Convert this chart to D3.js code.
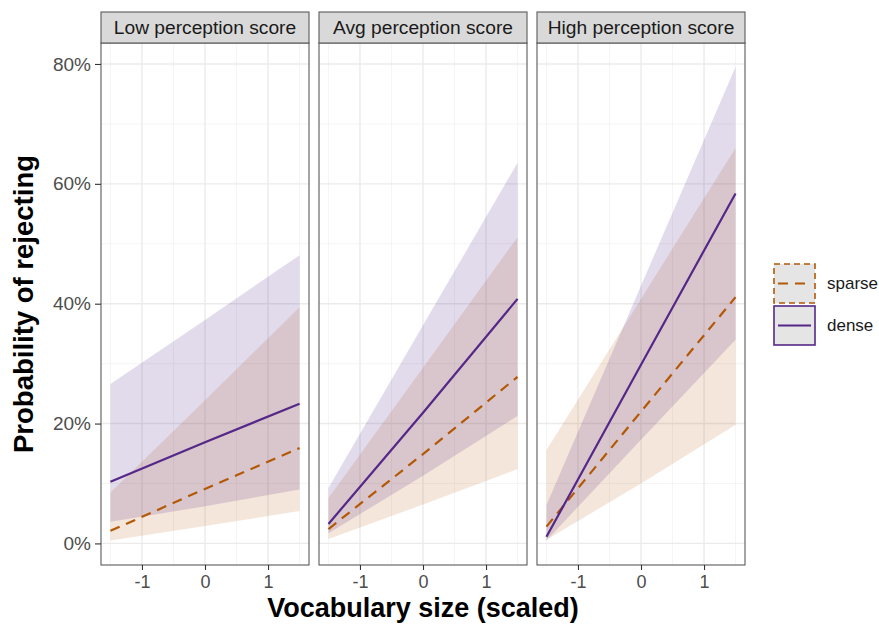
<!DOCTYPE html>
<html><head><meta charset="utf-8">
<script src="https://cdn.jsdelivr.net/npm/d3@7"></script>
<style>body{margin:0;background:#fff}svg{display:block;font-family:"Liberation Sans",Arial,sans-serif}</style>
</head><body><svg id="c" width="879" height="625"></svg>
<script>
// ---- data ----
const panels = ["Low perception score", "Avg perception score", "High perception score"];
const groups = ["sparse", "dense"];
const vocab = [-1.5, 0, 1.5];
const sparseFit = [[2.1, 9.1, 15.9], [2.4, 14.9, 27.8], [2.8, 22.0, 41.1]];
const sparseLo  = [[0.5, 2.9, 5.4], [0.75, 6.5, 12.4], [0.6, 10.0, 19.8]];
const sparseHi  = [[8.5, 23.9, 39.4], [7.6, 29.3, 51.1], [15.6, 40.8, 66.0]];
const denseFit  = [[10.3, 16.9, 23.3], [3.25, 21.8, 40.8], [1.1, 29.8, 58.4]];
const denseLo   = [[3.6, 6.2, 9.0], [1.7, 11.3, 21.25], [0.5, 17.3, 34.0]];
const denseHi   = [[26.6, 37.3, 48.1], [9.25, 36.4, 63.5], [6.4, 43.0, 79.5]];
const yTicks = [0, 20, 40, 60, 80];
const yTickLabels = ["0%", "20%", "40%", "60%", "80%"];
const xTicks = [-1, 0, 1];
const xTickLabels = ["-1", "0", "1"];

(function () {
const colors = {sparse: "#b35806", dense: "#542788"};
const series = {
  sparse: {fit: sparseFit, lo: sparseLo, hi: sparseHi},
  dense: {fit: denseFit, lo: denseLo, hi: denseHi}
};

const svg = d3.select("#c");
const panelLeft = [101, 319, 537], panelW = 208;
const pTop = 43, pBottom = 565, stripTop = 12;
const y = d3.scaleLinear().domain([-3.6, 83.5]).range([pBottom, pTop]);
const font = '"Liberation Sans", Arial, sans-serif';

panels.forEach((name, p) => {
  const x0 = panelLeft[p];
  const x = d3.scaleLinear().domain([-1.65, 1.65]).range([x0, x0 + panelW]);
  const g = svg.append("g");
  // grid minor
  [-1.5, -0.5, 0.5, 1.5].forEach(v => g.append("line").attr("x1", x(v)).attr("x2", x(v)).attr("y1", pTop).attr("y2", pBottom).attr("stroke", "#f2f2f2").attr("stroke-width", 0.8));
  [10, 30, 50, 70].forEach(v => g.append("line").attr("x1", x0).attr("x2", x0 + panelW).attr("y1", y(v)).attr("y2", y(v)).attr("stroke", "#f2f2f2").attr("stroke-width", 0.8));
  xTicks.forEach(v => g.append("line").attr("x1", x(v)).attr("x2", x(v)).attr("y1", pTop).attr("y2", pBottom).attr("stroke", "#ebebeb").attr("stroke-width", 1.4));
  yTicks.forEach(v => g.append("line").attr("x1", x0).attr("x2", x0 + panelW).attr("y1", y(v)).attr("y2", y(v)).attr("stroke", "#ebebeb").attr("stroke-width", 1.4));

  // ribbons
  groups.forEach(k => {
    const s = series[k];
    const pts = vocab.map((v, i) => ({v, lo: s.lo[p][i], hi: s.hi[p][i]}));
    const area = d3.area().x(d => x(d.v)).y0(d => y(d.lo)).y1(d => y(d.hi));
    g.append("path").attr("d", area(pts)).attr("fill", colors[k]).attr("fill-opacity", k === "sparse" ? 0.15 : 0.17);
  });
  // lines
  groups.forEach(k => {
    const s = series[k];
    const pts = vocab.map((v, i) => ({v, f: s.fit[p][i]}));
    const line = d3.line().x(d => x(d.v)).y(d => y(d.f));
    g.append("path").attr("d", line(pts)).attr("fill", "none").attr("stroke", colors[k]).attr("stroke-width", 2.2)
      .attr("stroke-dasharray", k === "sparse" ? "10,7" : null);
  });

  // border
  g.append("rect").attr("x", x0).attr("y", pTop).attr("width", panelW).attr("height", pBottom - pTop).attr("fill", "none").attr("stroke", "#5a5a5a").attr("stroke-width", 1.1);
  // strip
  g.append("rect").attr("x", x0).attr("y", stripTop).attr("width", panelW).attr("height", pTop - stripTop).attr("fill", "#d9d9d9").attr("stroke", "#5a5a5a").attr("stroke-width", 1.1);
  g.append("text").attr("x", x0 + panelW / 2).attr("y", 34).attr("text-anchor", "middle").attr("font-size", 19.2).attr("fill", "#1a1a1a").style("font-family", font).text(name);

  // x axis
  const xa = d3.axisBottom(x).tickValues(xTicks).tickSize(5).tickPadding(5).tickFormat((d, i) => xTickLabels[i]);
  const xg = g.append("g").attr("transform", `translate(0,${pBottom})`).call(xa);
  xg.select(".domain").remove();
  xg.selectAll("line").attr("stroke", "#333").attr("stroke-width", 1.1);
  xg.selectAll("text").attr("font-size", 18).attr("fill", "#4d4d4d").style("font-family", font);

  if (p === 0) {
    const ya = d3.axisLeft(y).tickValues(yTicks).tickSize(6).tickPadding(4).tickFormat((d, i) => yTickLabels[i]);
    const yg = g.append("g").attr("transform", `translate(${x0},0)`).call(ya);
    yg.select(".domain").remove();
    yg.selectAll("line").attr("stroke", "#333").attr("stroke-width", 1.1);
    yg.selectAll("text").attr("font-size", 19).attr("fill", "#4d4d4d").style("font-family", font);
  }
});

// titles
svg.append("text").attr("x", 423).attr("y", 617).attr("text-anchor", "middle").attr("font-size", 27).attr("font-weight", "bold").attr("fill", "#000").style("font-family", font).text("Vocabulary size (scaled)");
svg.append("text").attr("transform", "translate(33,304) rotate(-90)").attr("text-anchor", "middle").attr("font-size", 27.5).attr("font-weight", "bold").attr("fill", "#000").style("font-family", font).text("Probability of rejecting");

// legend
const leg = svg.append("g");
groups.forEach((k, i) => {
  const ky = 264 + i * 42;
  leg.append("rect").attr("x", 774).attr("y", ky).attr("width", 41).attr("height", 39).attr("fill", "#e5e5e5")
    .attr("stroke", colors[k]).attr("stroke-width", 1.6).attr("stroke-dasharray", k === "sparse" ? "6,4" : null);
  leg.append("line").attr("x1", 778).attr("x2", 811).attr("y1", ky + 19.5).attr("y2", ky + 19.5).attr("stroke", colors[k]).attr("stroke-width", 2.2)
    .attr("stroke-dasharray", k === "sparse" ? "10,7" : null);
  leg.append("text").attr("x", 827).attr("y", ky + 19.5).attr("dy", "0.35em").attr("font-size", 17).attr("fill", "#1a1a1a").style("font-family", font).text(k);
});
})();
</script></body></html>
